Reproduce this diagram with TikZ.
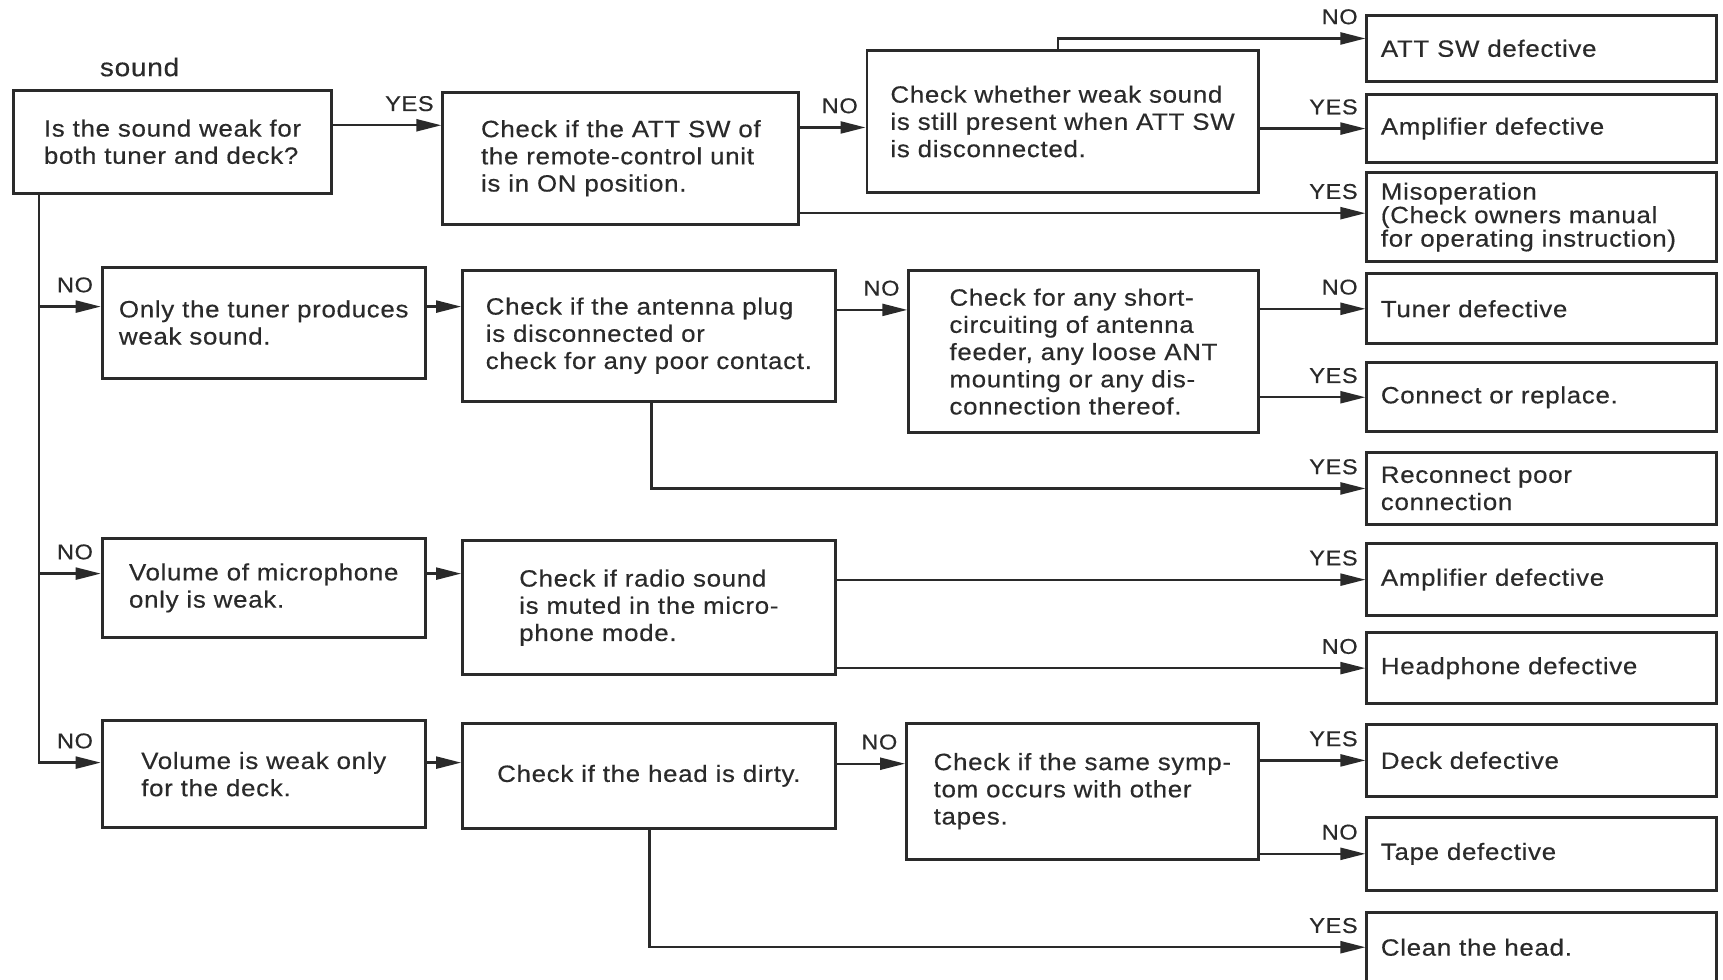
\documentclass[tikz,border=0pt]{standalone}
\usepackage{fontspec}
\setmainfont{Liberation Sans}[FakeStretch=1.1,LetterSpace=3,FakeBold=0.4]
\usetikzlibrary{arrows.meta}
\definecolor{ink}{HTML}{2A2A2A}
\newcommand\pxu{0.022cm}
\newcommand\bodyfont{\fontsize{13.4}{15.5}\selectfont}
\newcommand\labfont{\fontsize{12.2}{13}\selectfont}
% decision box from its two corners (x1,y1)-(x2,y2)
\newcommand\mkbox[7][]{\node[box,#1,minimum width={(#5-#3)*0.022cm},minimum height={(#6-#4)*0.022cm}] (#2) at ({(#3+#5)/2},{(#4+#6)/2}) {#7};}
% result box in the right-hand column, from its top and bottom
\newcommand\mkres[5][]{\node[res,#1,minimum height={(#4-#3)*0.022cm}] (#2) at (1403,{(#3+#4)/2}) {#5};}
\begin{document}
\begin{tikzpicture}[x=0.022cm,y=-0.022cm,
  box/.style={draw=ink,line width=1.7pt,inner xsep=1pt,inner ysep=2pt,align=left,font=\bodyfont,text=ink},
  res/.style={box,text width=6.44cm,inner xsep=0.28cm},
  arr/.style={draw=ink,line width=1.3pt,-{Triangle[length=0.5cm,width=0.24cm]}},
  rarr/.style={draw=ink,line width=1.3pt,{Triangle[length=0.5cm,width=0.24cm]}-},
  lab/.style={anchor=base east,inner sep=0pt,xshift=-6*\pxu,yshift=13*\pxu,font=\labfont,text=ink}]
\fill[white] (0,0) rectangle (1568,891);
\useasboundingbox (0,0) rectangle (1568,891);
\clip (0,0) rectangle (1568,891);

\node[text=ink,font=\fontsize{14.5}{16}\selectfont] (title) at (127,61) {sound};

% first question and ATT switch checks
\mkbox{A}{12}{82}{302}{176}{Is the sound weak for\\both tuner and deck?}
\mkbox{B}{403}{84}{727}{204}{Check if the ATT SW of\\the remote-control unit\\is in ON position.}
\mkbox{C}{789}{46}{1145}{175}{Check whether weak sound\\is still present when ATT SW\\is disconnected.}
\mkres{D1}{14}{74}{ATT SW defective}
\mkres{D2}{86}{148}{Amplifier defective}
\mkres[font=\fontsize{13.4}{13.4}\selectfont]{D3}{157}{238}{Misoperation\\(Check owners manual\\for operating instruction)}

% tuner branch
\mkbox{E}{93}{243}{387}{344}{Only the tuner produces\\weak sound.}
\mkbox{F}{421}{246}{760}{365}{Check if the antenna plug\\is disconnected or\\check for any poor contact.}
\mkbox{G}{827}{246}{1145}{394}{Check for any short-\\circuiting of antenna\\feeder, any loose ANT\\mounting or any dis-\\connection thereof.}
\mkres{H1}{249}{313}{Tuner defective}
\mkres{H2}{330}{393}{Connect or replace.}
\mkres{H3}{412}{477}{Reconnect poor\\connection}

% microphone branch
\mkbox{I}{93}{490}{387}{580}{Volume of microphone\\only is weak.}
\mkbox{J}{421}{492}{760}{614}{Check if radio sound\\is muted in the micro-\\phone mode.}
\mkres{K1}{495}{560}{Amplifier defective}
\mkres{K2}{576}{640}{Headphone defective}

% deck branch
\mkbox{L}{93}{656}{387}{753}{Volume is weak only\\for the deck.}
\mkbox{M}{421}{658}{760}{754}{Check if the head is dirty.}
\mkbox{N}{825}{658}{1145}{782}{Check if the same symp-\\tom occurs with other\\tapes.}
\mkres{P1}{659}{725}{Deck defective}
\mkres{P2}{744}{810}{Tape defective}
\mkres{P3}{830}{894}{Clean the head.}

% connectors of the top row
\draw[arr] ([yshift=15*\pxu]A.east) coordinate (ab) -- (B.west |- ab) node[lab] (yA) {YES};
\draw[arr] ([yshift=28*\pxu]B.east) coordinate (bc) -- (C.west |- bc) node[lab] (nB) {NO};
\draw[arr] ([xshift=-4*\pxu]C.north) |- ([yshift=9*\pxu]D1.west) node[lab] (nC) {NO};
\draw[arr] (C.east |- D2.west) -- (D2.west) node[lab] (yC) {YES};
\path ([yshift=3.5*\pxu]D3.west) coordinate (d3);
\draw[arr] (B.east |- d3) -- (d3) node[lab] (yB) {YES};

% trunk down the left side
\draw[arr] ([xshift=25*\pxu]A.south west) coordinate (trk) |- ([yshift=10.5*\pxu]L.west) node[lab] (nL) {NO};
\draw[rarr] ([yshift=14.5*\pxu]E.west) coordinate (te) node[lab] (nE) {NO} -- (trk |- te);
\draw[rarr] ([yshift=13*\pxu]I.west) coordinate (ti) node[lab] (nI) {NO} -- (trk |- ti);

% tuner branch connectors
\draw[arr] ([yshift=14.5*\pxu]E.east) coordinate (ef) -- (F.west |- ef);
\draw[arr] ([yshift=23.5*\pxu]F.east) coordinate (fg) -- (G.west |- fg) node[lab] (nF) {NO};
\draw[arr] (G.east |- H1.west) -- (H1.west) node[lab] (nG) {NO};
\draw[arr] (G.east |- H2.west) -- (H2.west) node[lab] (yG) {YES};
\draw[arr] ([xshift=2.5*\pxu]F.south) |- (H3.west) node[lab] (yF) {YES};

% microphone branch connectors
\draw[arr] ([yshift=13*\pxu]I.east) coordinate (ij) -- (J.west |- ij);
\draw[arr] (J.east |- K1.west) -- (K1.west) node[lab] (yJ) {YES};
\draw[arr] (J.east |- K2.west) -- (K2.west) node[lab] (nJ) {NO};

% deck branch connectors
\draw[arr] ([yshift=10.5*\pxu]L.east) coordinate (lm) -- (M.west |- lm);
\draw[arr] ([yshift=11*\pxu]M.east) coordinate (mn) -- (N.west |- mn) node[lab] (nM) {NO};
\draw[arr] (N.east |- P1.west) -- (P1.west) node[lab] (yN) {YES};
\draw[arr] (N.east |- P2.west) -- (P2.west) node[lab] (nN) {NO};
\draw[arr] ([xshift=0.5*\pxu]M.south) |- (P3.west) node[lab] (yM) {YES};
\end{tikzpicture}
\end{document}
